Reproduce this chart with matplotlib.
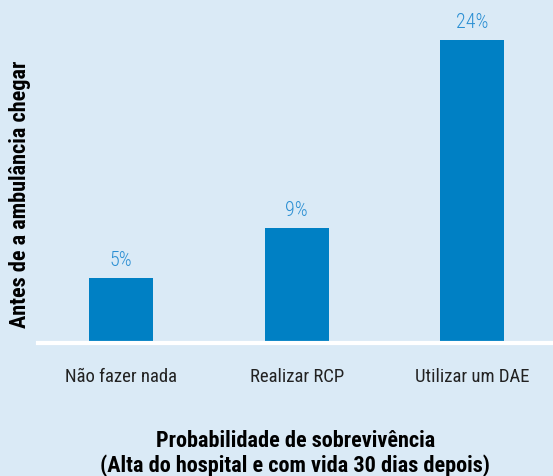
import matplotlib
matplotlib.use("Agg")
import matplotlib.pyplot as plt
from matplotlib import font_manager

# data
categories = ["Não fazer nada", "Realizar RCP", "Utilizar um DAE"]
survival_pct = [5, 9, 24]
value_labels = ["5%", "9%", "24%"]

BG = "#DAEAF6"
BAR = "#0080C4"
TXT_BLUE = "#2B8FD3"

names = {f.name for f in font_manager.fontManager.ttflist}
candidates = ["Roboto Condensed", "Archivo Narrow", "PT Sans Narrow",
              "Liberation Sans Narrow", "Fira Sans Condensed"]
family = next((c for c in candidates if c in names), "DejaVu Sans")
plt.rcParams["font.family"] = [family, "DejaVu Sans"]

fig = plt.figure(figsize=(5.53, 4.77), dpi=100, facecolor=BG)
ax = fig.add_axes([0.0687, 1 - 342 / 477, 0.9313, 342 / 477])
ax.set_facecolor(BG)

x = list(range(len(categories)))
ax.bar(x, survival_pct, width=0.365, color=BAR, zorder=2)
for xi, v, lbl in zip(x, survival_pct, value_labels):
    ax.text(xi, v + 0.7, lbl, ha="center", va="bottom", color=TXT_BLUE,
            fontsize=14.5, fontweight="light")

ax.set_xlim(-0.473, 2.46)
ax.set_ylim(0, 27.25)
ax.axhline(-0.16, color="white", lw=3, zorder=3, clip_on=False)

for s in ax.spines.values():
    s.set_visible(False)
ax.set_yticks([])
ax.set_xticks(x)
ax.set_xticklabels(categories, fontsize=13.5, color="#222222")
ax.tick_params(axis="x", length=0, pad=19)

fig.text(0.036, 0.592, "Antes de a ambulância chegar", rotation=90,
         ha="center", va="center", fontsize=16, fontweight="bold")
fig.text(0.534, 0.05, "Probabilidade de sobrevivência\n(Alta do hospital e com vida 30 dias depois)",
         ha="center", va="center", fontsize=16, fontweight="bold",
         linespacing=1.12)

fig.savefig("out.png", dpi=100, facecolor=BG)
